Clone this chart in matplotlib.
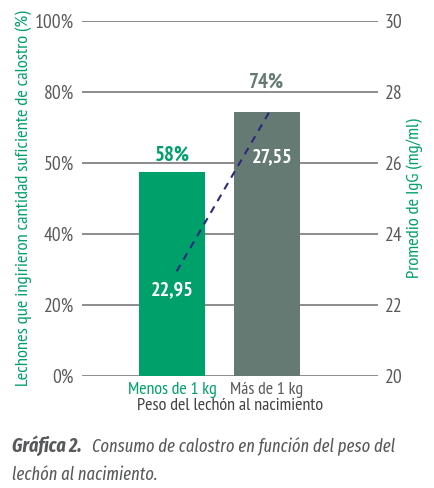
import numpy as np
import matplotlib.pyplot as plt

categories = ["Menos de 1 kg", "Más de 1 kg"]
pct_values = [57.5, 74.4]
pct_labels = ["58%", "74%"]
igg_values = [22.95, 27.55]
igg_labels = ["22,95", "27,55"]
left_ticks = [0, 20, 40, 60, 80, 100]
left_ticklabels = ["0%", "20%", "40%", "50%", "80%", "100%"]
right_ticks = [20, 22, 24, 26, 28, 30]

GREEN = "#00a06a"
GREY_BAR = "#667a74"
TEXT = "#58595b"
NAVY = "#2b2a7a"
CAPTION_FONT = ['Fira Sans Extra Condensed', 'DejaVu Sans']

plt.rcParams['font.family'] = ['PT Sans Narrow', 'DejaVu Sans']

fig = plt.figure(figsize=(4.35, 4.88), dpi=100)
ax = fig.add_axes([0.1885, 0.2295, 0.6805, 0.7275])

x = np.arange(len(categories))
bar_colors = [GREEN, GREY_BAR]
for t in left_ticks:
    ax.axhline(t, color="#6d6e71", lw=1.1, zorder=0)
ax.bar(x, pct_values, width=0.695, color=bar_colors, zorder=2)
ax.set_ylim(0, 100)
ax.set_xlim(-0.947, 2.17)
ax.set_yticks(left_ticks)
ax.set_yticklabels(left_ticklabels, fontsize=14, color=TEXT)
ax.tick_params(axis='y', length=0, pad=6)
ax.set_xticks(x)
ax.set_xticklabels(categories, fontsize=12.8)
for lbl, c in zip(ax.get_xticklabels(), [GREEN, TEXT]):
    lbl.set_color(c)
ax.tick_params(axis='x', length=0, pad=4)
ax.set_xlabel("Peso del lechón al nacimiento", fontsize=13, color="#414042", labelpad=0)
ax.set_ylabel("Lechones que ingirieron cantidad suficiente de calostro (%)",
              fontsize=13.3, color=GREEN, labelpad=2)
for s in ax.spines.values():
    s.set_visible(False)

# label offsets above the bars (as in the original layout)
pct_offsets = [4.8, 8.5]
for xi, v, lab, c, off in zip(x, pct_values, pct_labels, bar_colors, pct_offsets):
    ax.text(xi, v + off, lab, ha='center', va='center', fontsize=15,
            fontweight='bold', color=c)

ax2 = ax.twinx()
ax2.set_ylim(20, 30)
ax2.set_yticks(right_ticks)
ax2.set_yticklabels([str(t) for t in right_ticks], fontsize=14, color=TEXT)
ax2.tick_params(axis='y', length=0, pad=5)
for s in ax2.spines.values():
    s.set_visible(False)
ax2.set_ylabel("Promedio de IgG (mg/ml)", fontsize=13.3, color=GREEN, labelpad=3)
ax2.plot(x + 0.05, igg_values, color=NAVY, lw=1.5, dashes=(3.5, 3), zorder=3)
igg_offsets = [-0.53, -1.38]
igg_dx = [0.0, 0.06]
for xi, v, lab, off, dx in zip(x, igg_values, igg_labels, igg_offsets, igg_dx):
    ax2.text(xi + dx, v + off, lab, ha='center', va='center',
             fontsize=14.5, fontweight='bold', color='white', zorder=4)

fig.text(0.027, 0.074, "Gráfica 2.", fontsize=14, fontweight='bold',
         style='italic', color="#58595b", family=CAPTION_FONT)
fig.text(0.211, 0.074, "Consumo de calostro en función del peso del",
         fontsize=13, style='italic', color="#58595b", family=CAPTION_FONT)
fig.text(0.027, 0.016, "lechón al nacimiento.", fontsize=13, style='italic',
         color="#58595b", family=CAPTION_FONT)

fig.savefig("out.png", dpi=100)
